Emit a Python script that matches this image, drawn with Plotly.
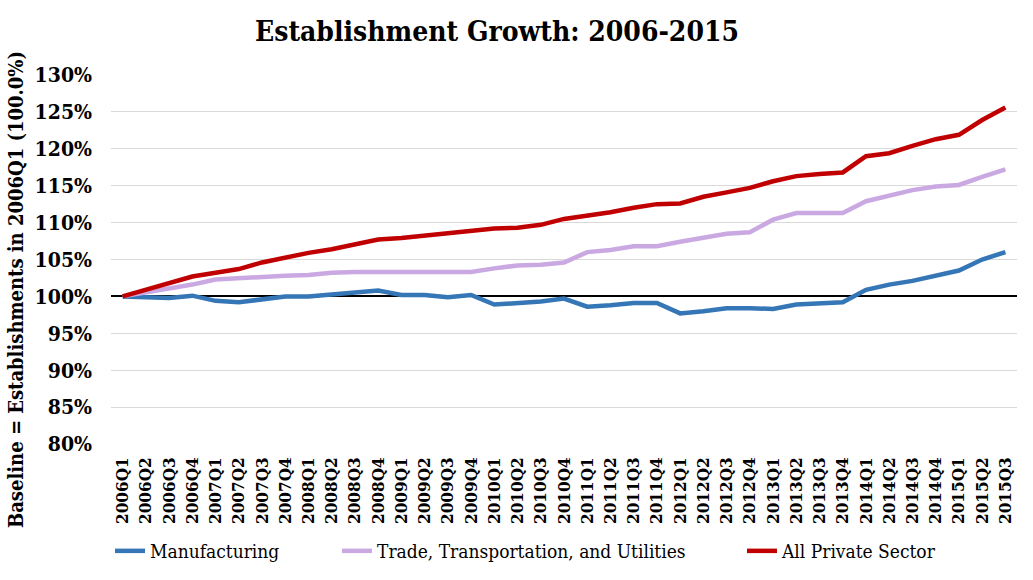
import plotly.graph_objects as go

quarters = [f"{y}Q{q}" for y in range(2006, 2016) for q in range(1, 5)][:39]

manufacturing = [100.0, 99.9, 99.8, 100.1, 99.4, 99.2, 99.6, 100.0, 100.0, 100.3,
                 100.6, 100.8, 100.2, 100.2, 99.9, 100.2, 98.9, 99.1, 99.3, 99.7,
                 98.6, 98.8, 99.1, 99.1, 97.7, 98.0, 98.4, 98.4, 98.3, 98.9,
                 99.1, 99.2, 100.9, 101.6, 102.1, 102.8, 103.5, 105.0, 106.0]
trade = [100.0, 100.5, 101.0, 101.6, 102.3, 102.5, 102.6, 102.8, 102.9, 103.2,
         103.3, 103.3, 103.3, 103.3, 103.3, 103.3, 103.8, 104.2, 104.3, 104.6,
         106.0, 106.3, 106.8, 106.8, 107.4, 108.0, 108.5, 108.7, 110.4, 111.3,
         111.3, 111.3, 112.9, 113.7, 114.4, 114.9, 115.1, 116.2, 117.2]
private = [100.0, 100.9, 101.8, 102.7, 103.2, 103.7, 104.6, 105.3, 105.9, 106.4,
           107.1, 107.7, 107.9, 108.2, 108.5, 108.9, 109.2, 109.3, 109.7, 110.5,
           110.9, 111.4, 112.0, 112.5, 112.6, 113.5, 114.1, 114.7, 115.6, 116.3,
           116.6, 116.8, 119.0, 119.4, 120.4, 121.3, 121.9, 123.9, 125.6]

y_ticks = list(range(80, 131, 5))
y_tick_labels = [f"{v}%" for v in y_ticks]
BASE = 100  # baseline (2006Q1 = 100%), drawn as the axis zero line

FONT = "DejaVu Serif Condensed, DejaVu Serif, serif"


def rel(values):
    return [v - BASE for v in values]


fig = go.Figure()
fig.add_trace(go.Scatter(x=quarters, y=rel(manufacturing), name="Manufacturing", mode="lines",
                         line=dict(color="#3576B6", width=4.5), legendwidth=182))
fig.add_trace(go.Scatter(x=quarters, y=rel(trade), name="Trade, Transportation, and Utilities",
                         mode="lines", line=dict(color="#CAA9E3", width=4.5), legendwidth=360))
fig.add_trace(go.Scatter(x=quarters, y=rel(private), name="All Private Sector", mode="lines",
                         line=dict(color="#C00000", width=4.5), legendwidth=155))

fig.update_layout(
    width=1033, height=580,
    margin=dict(l=111, r=16, t=75, b=136),
    paper_bgcolor="white", plot_bgcolor="white",
    font=dict(family=FONT, color="black"),
    title=dict(text="<b>Establishment Growth: 2006-2015</b>", x=497 / 1033, xref="container",
               xanchor="center", y=1 - 31 / 580, yanchor="middle",
               font=dict(size=28, family=FONT, color="black")),
    showlegend=True,
    legend=dict(orientation="h", x=110 / 1033, xref="container", xanchor="left",
                y=1 - 551 / 580, yref="container", yanchor="middle",
                font=dict(size=19, family=FONT), traceorder="normal"),
    xaxis=dict(type="category", range=[-0.5, 38.5], tickangle=-90, showgrid=False,
               showline=False, ticks="", ticklabelstandoff=9, automargin=False,
               tickfont=dict(size=17, family=FONT, weight="bold")),
    yaxis=dict(range=[y_ticks[0] - BASE, y_ticks[-1] - BASE],
               tickvals=[t - BASE for t in y_ticks], ticktext=y_tick_labels,
               showgrid=True, gridcolor="#D9D9D9", gridwidth=1,
               zeroline=True, zerolinecolor="black", zerolinewidth=2,
               showline=False, ticks="", ticklabelstandoff=18, automargin=False,
               tickfont=dict(size=21, family=FONT, weight="bold")),
)

fig.add_annotation(text="<b>Baseline = Establishments in 2006Q1 (100.0%)</b>",
                   xref="paper", yref="paper", x=(16 - 111) / 906, y=(444 - 290) / 369,
                   xanchor="center", yanchor="middle",
                   textangle=-90, showarrow=False,
                   font=dict(size=20, family=FONT, color="black"))

fig.write_html("out.html", config={"displayModeBar": False},
               post_script="document.body.style.margin='0px';")
